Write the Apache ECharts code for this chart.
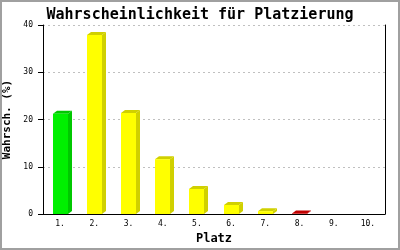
<!DOCTYPE html>
<html>
<head>
<meta charset="utf-8">
<script src="https://cdn.jsdelivr.net/npm/echarts@6/dist/echarts.min.js"></script>
<style>
html,body{margin:0;padding:0;background:#fff;}
#c{width:400px;height:250px;}
</style>
</head>
<body>
<div id="c"></div>
<script>
// ---- data ----
const categories = ['1.', '2.', '3.', '4.', '5.', '6.', '7.', '8.', '9.', '10.'];
const probabilities = [21.2, 37.9, 21.4, 11.6, 5.3, 1.9, 0.6, 0.1, 0, 0];
const yTicks = [0, 10, 20, 30, 40];
const titleText = 'Wahrscheinlichkeit für Platzierung';
const xName = 'Platz';
const yName = 'Wahrsch. (%)';

// ---- styles ----
const barStyles = [
  ['#00f000', '#00c800'],
  ['#ffff00', '#d0d000'], ['#ffff00', '#d0d000'], ['#ffff00', '#d0d000'],
  ['#ffff00', '#d0d000'], ['#ffff00', '#d0d000'], ['#ffff00', '#d0d000'],
  ['#d00000', '#c00000'], ['#d00000', '#c00000'], ['#d00000', '#c00000']
];
const BAR_W = 15, DX = 4, DY = 3;
const MONO = '"DejaVu Sans Mono", "Liberation Mono", monospace';

const chart = echarts.init(document.getElementById('c'), null, {renderer: 'canvas'});

const option = {
  animation: false,
  backgroundColor: '#ffffff',
  title: {
    text: titleText,
    left: 'center',
    top: 3,
    textStyle: {fontFamily: MONO, fontWeight: 'bold', fontSize: 15, color: '#000'}
  },
  graphic: [{
    type: 'rect',
    shape: {x: 1, y: 1, width: 398, height: 248},
    style: {fill: null, stroke: '#a0a0a0', lineWidth: 2},
    silent: true,
    z: 100
  }],
  grid: {left: 43, right: 15, top: 25, bottom: 36, containLabel: false, outerBoundsMode: 'none'},
  xAxis: {
    type: 'category',
    data: categories,
    boundaryGap: true,
    name: xName,
    nameLocation: 'middle',
    nameGap: 19,
    nameTextStyle: {fontFamily: MONO, fontWeight: 'bold', fontSize: 12, color: '#000'},
    axisLine: {show: true, lineStyle: {color: '#000', width: 1}},
    axisTick: {show: false},
    axisLabel: {fontFamily: MONO, fontSize: 8, color: '#000', margin: 6, interval: 0},
    splitLine: {show: false}
  },
  yAxis: [{
    type: 'value',
    min: yTicks[0],
    max: yTicks[yTicks.length - 1],
    interval: yTicks[1] - yTicks[0],
    name: yName,
    nameLocation: 'middle',
    nameRotate: 90,
    nameGap: 25,
    nameTextStyle: {fontFamily: MONO, fontWeight: 'bold', fontSize: 11, color: '#000'},
    axisLine: {show: true, lineStyle: {color: '#000', width: 1}},
    axisTick: {show: true, length: 5, inside: false, lineStyle: {color: '#000'}},
    axisLabel: {fontFamily: MONO, fontSize: 8, color: '#000', margin: 10},
    splitLine: {show: true, lineStyle: {color: '#c0c0c0', type: [2, 3], width: 1}}
  }, {
    type: 'value',
    position: 'right',
    min: yTicks[0],
    max: yTicks[yTicks.length - 1],
    interval: yTicks[1] - yTicks[0],
    axisLine: {show: true, lineStyle: {color: '#000', width: 1}},
    axisTick: {show: false},
    axisLabel: {show: false},
    splitLine: {show: false}
  }],
  series: [{
    type: 'custom',
    data: probabilities.map((v, i) => [i, v]),
    encode: {x: 0, y: 1},
    renderItem: function (params, api) {
      const idx = api.value(0);
      const v = api.value(1);
      if (!(v > 0)) return null;
      const top = api.coord([idx, v]);
      const base = api.coord([idx, 0]);
      const x0 = Math.round(top[0] - BAR_W / 2);
      const x1 = x0 + BAR_W;
      const ty = top[1];
      const by = base[1];
      const c = barStyles[idx];
      return {
        type: 'group',
        children: [
          {
            type: 'polygon',
            shape: {points: [[x1, ty], [x1 + DX, ty - DY], [x1 + DX, by - DY], [x1, by]]},
            style: {fill: c[1]}
          },
          {
            type: 'polygon',
            shape: {points: [[x0, ty], [x0 + DX, ty - DY], [x1 + DX, ty - DY], [x1, ty]]},
            style: {fill: c[1]}
          },
          {
            type: 'rect',
            shape: {x: x0, y: ty, width: BAR_W, height: by - ty},
            style: {fill: c[0]}
          }
        ]
      };
    }
  }]
};
chart.setOption(option);
</script>
</body>
</html>
